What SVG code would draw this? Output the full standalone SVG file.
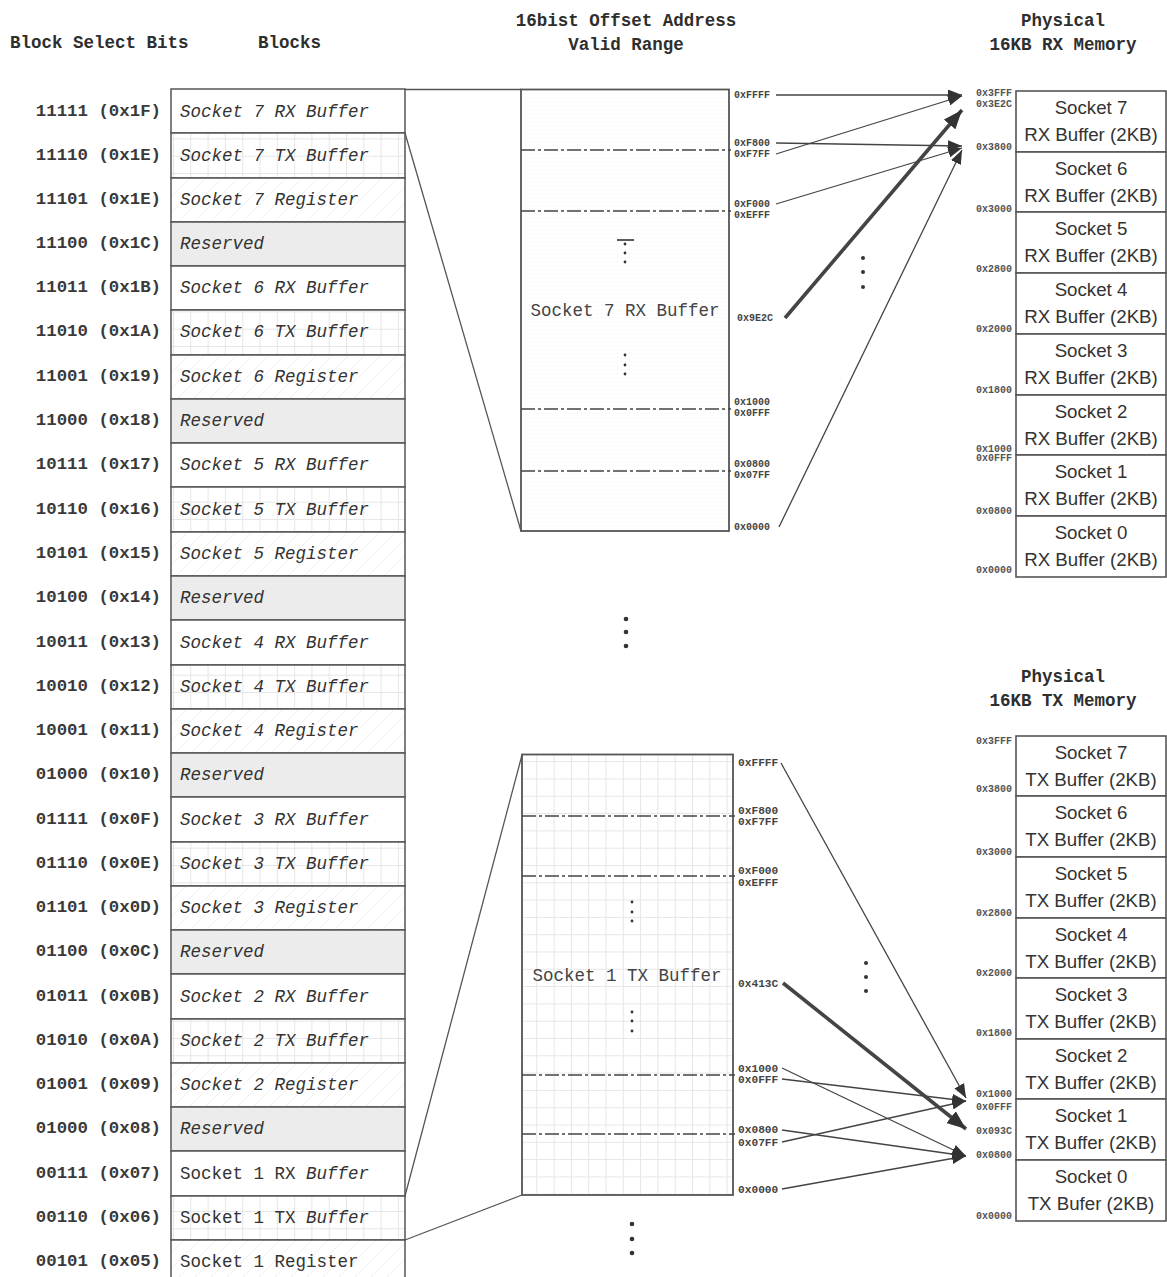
<svg xmlns="http://www.w3.org/2000/svg" width="1167" height="1277" viewBox="0 0 1167 1277">
  <style>
    .hdr { font-family: "Liberation Mono", "DejaVu Sans Mono", monospace; font-size: 17.5px; font-weight: bold; fill: #2e2e2e; }
    .sel { font-family: "Liberation Mono", "DejaVu Sans Mono", monospace; font-size: 17.4px; font-weight: bold; fill: #3a3a3a; text-anchor: end; }
    .blk { font-family: "Liberation Mono", "DejaVu Sans Mono", monospace; font-size: 17.5px; font-style: italic; fill: #333; }
    .up { font-style: normal; }
    .cell { stroke: #555; stroke-width: 1.5; }
    .plain { fill: #ffffff; }
    .resv { fill: #ececec; }
    .grid { fill: url(#gridPat); }
    .hatch { fill: url(#hatchPat); }
    .region { stroke: #555; stroke-width: 1.8; }
    .dashdot { stroke: #444; stroke-width: 1.4; stroke-dasharray: 14 3 3 3; fill: none; }
    .mid { font-family: "Liberation Mono", "DejaVu Sans Mono", monospace; font-size: 17.5px; fill: #444; text-anchor: middle; }
    .addr { font-family: "Liberation Mono", "DejaVu Sans Mono", monospace; font-size: 10px; font-weight: bold; fill: #444; }
    .addrTx { font-family: "Liberation Mono", "DejaVu Sans Mono", monospace; font-size: 11.2px; font-weight: bold; fill: #444; }
    .maddr { font-family: "Liberation Mono", "DejaVu Sans Mono", monospace; font-size: 10px; font-weight: bold; fill: #555; text-anchor: end; }
    .mem { fill: #ffffff; stroke: #555; stroke-width: 1.6; }
    .memt { font-family: "Liberation Sans", Arial, sans-serif; font-size: 18.7px; fill: #333; text-anchor: middle; }
    .link { stroke: #555; stroke-width: 1.3; fill: none; }
    .arrow { stroke: #444; stroke-width: 1.3; fill: none; marker-end: url(#head); }
    .thick { stroke: #444; stroke-width: 3.6; fill: none; marker-end: url(#headBig); }
    .dot { fill: #333; }
  </style>
  <defs>
    <pattern id="gridPat" width="17.3" height="17.3" patternUnits="userSpaceOnUse">
      <rect width="17.3" height="17.3" fill="#ffffff"/>
      <path d="M0,0.5 H17.3 M0.5,0 V17.3" stroke="#e6e6e6" stroke-width="1"/>
    </pattern>
    <pattern id="hatchPat" width="16" height="16" patternUnits="userSpaceOnUse">
      <rect width="16" height="16" fill="#ffffff"/>
      <path d="M0,16 L16,0" stroke="#f0f0f0" stroke-width="1"/>
    </pattern>
    <pattern id="stipple" width="4" height="4" patternUnits="userSpaceOnUse">
      <rect width="4" height="4" fill="#ffffff"/>
      <rect x="1" y="1" width="1" height="1" fill="#f1f1f1"/>
    </pattern>
    <marker id="head" markerUnits="userSpaceOnUse" markerWidth="15" markerHeight="11" refX="14" refY="5.5" orient="auto">
      <path d="M0,0 L14,5.5 L0,11 z" fill="#333"/>
    </marker>
    <marker id="headBig" markerUnits="userSpaceOnUse" markerWidth="20" markerHeight="15" refX="19" refY="7.5" orient="auto">
      <path d="M0,0 L19,7.5 L0,15 z" fill="#333"/>
    </marker>
  </defs>

  <rect width="1167" height="1277" fill="#ffffff"/>

  <!-- column headings -->
  <g id="headings">
    <text class="hdr" x="10" y="48">Block Select Bits</text>
    <text class="hdr" x="258" y="48">Blocks</text>
    <text class="hdr" x="626" y="26" text-anchor="middle">16bist Offset Address</text>
    <text class="hdr" x="626" y="50" text-anchor="middle">Valid Range</text>
    <text class="hdr" x="1063" y="26" text-anchor="middle">Physical</text>
    <text class="hdr" x="1063" y="50" text-anchor="middle">16KB RX Memory</text>
    <text class="hdr" x="1063" y="682" text-anchor="middle">Physical</text>
    <text class="hdr" x="1063" y="706" text-anchor="middle">16KB TX Memory</text>
  </g>

  <!-- block select table: one row per block -->
  <g id="row-1F"><rect class="cell plain" x="171" y="89" width="234" height="44"/><text class="sel" x="161" y="116">11111 (0x1F)</text><text class="blk" x="180" y="117">Socket 7 RX Buffer</text></g>
  <g id="row-1E"><rect class="cell grid" x="171" y="133" width="234" height="45"/><text class="sel" x="161" y="160">11110 (0x1E)</text><text class="blk" x="180" y="161">Socket 7 TX Buffer</text></g>
  <g id="row-1D"><rect class="cell hatch" x="171" y="178" width="234" height="44"/><text class="sel" x="161" y="204">11101 (0x1E)</text><text class="blk" x="180" y="205">Socket 7 Register</text></g>
  <g id="row-1C"><rect class="cell resv" x="171" y="222" width="234" height="44"/><text class="sel" x="161" y="248">11100 (0x1C)</text><text class="blk" x="180" y="249">Reserved</text></g>
  <g id="row-1B"><rect class="cell plain" x="171" y="266" width="234" height="44"/><text class="sel" x="161" y="292">11011 (0x1B)</text><text class="blk" x="180" y="293">Socket 6 RX Buffer</text></g>
  <g id="row-1A"><rect class="cell grid" x="171" y="310" width="234" height="45"/><text class="sel" x="161" y="336">11010 (0x1A)</text><text class="blk" x="180" y="337">Socket 6 TX Buffer</text></g>
  <g id="row-19"><rect class="cell hatch" x="171" y="355" width="234" height="44"/><text class="sel" x="161" y="381">11001 (0x19)</text><text class="blk" x="180" y="382">Socket 6 Register</text></g>
  <g id="row-18"><rect class="cell resv" x="171" y="399" width="234" height="44"/><text class="sel" x="161" y="425">11000 (0x18)</text><text class="blk" x="180" y="426">Reserved</text></g>
  <g id="row-17"><rect class="cell plain" x="171" y="443" width="234" height="44"/><text class="sel" x="161" y="469">10111 (0x17)</text><text class="blk" x="180" y="470">Socket 5 RX Buffer</text></g>
  <g id="row-16"><rect class="cell grid" x="171" y="487" width="234" height="45"/><text class="sel" x="161" y="514">10110 (0x16)</text><text class="blk" x="180" y="515">Socket 5 TX Buffer</text></g>
  <g id="row-15"><rect class="cell hatch" x="171" y="532" width="234" height="44"/><text class="sel" x="161" y="558">10101 (0x15)</text><text class="blk" x="180" y="559">Socket 5 Register</text></g>
  <g id="row-14"><rect class="cell resv" x="171" y="576" width="234" height="44"/><text class="sel" x="161" y="602">10100 (0x14)</text><text class="blk" x="180" y="603">Reserved</text></g>
  <g id="row-13"><rect class="cell plain" x="171" y="620" width="234" height="45"/><text class="sel" x="161" y="647">10011 (0x13)</text><text class="blk" x="180" y="648">Socket 4 RX Buffer</text></g>
  <g id="row-12"><rect class="cell grid" x="171" y="665" width="234" height="44"/><text class="sel" x="161" y="691">10010 (0x12)</text><text class="blk" x="180" y="692">Socket 4 TX Buffer</text></g>
  <g id="row-11"><rect class="cell hatch" x="171" y="709" width="234" height="44"/><text class="sel" x="161" y="735">10001 (0x11)</text><text class="blk" x="180" y="736">Socket 4 Register</text></g>
  <g id="row-10"><rect class="cell resv" x="171" y="753" width="234" height="44"/><text class="sel" x="161" y="779">01000 (0x10)</text><text class="blk" x="180" y="780">Reserved</text></g>
  <g id="row-0F"><rect class="cell plain" x="171" y="797" width="234" height="45"/><text class="sel" x="161" y="824">01111 (0x0F)</text><text class="blk" x="180" y="825">Socket 3 RX Buffer</text></g>
  <g id="row-0E"><rect class="cell grid" x="171" y="842" width="234" height="44"/><text class="sel" x="161" y="868">01110 (0x0E)</text><text class="blk" x="180" y="869">Socket 3 TX Buffer</text></g>
  <g id="row-0D"><rect class="cell hatch" x="171" y="886" width="234" height="44"/><text class="sel" x="161" y="912">01101 (0x0D)</text><text class="blk" x="180" y="913">Socket 3 Register</text></g>
  <g id="row-0C"><rect class="cell resv" x="171" y="930" width="234" height="44"/><text class="sel" x="161" y="956">01100 (0x0C)</text><text class="blk" x="180" y="957">Reserved</text></g>
  <g id="row-0B"><rect class="cell plain" x="171" y="974" width="234" height="45"/><text class="sel" x="161" y="1001">01011 (0x0B)</text><text class="blk" x="180" y="1002">Socket 2 RX Buffer</text></g>
  <g id="row-0A"><rect class="cell grid" x="171" y="1019" width="234" height="44"/><text class="sel" x="161" y="1045">01010 (0x0A)</text><text class="blk" x="180" y="1046">Socket 2 TX Buffer</text></g>
  <g id="row-09"><rect class="cell hatch" x="171" y="1063" width="234" height="44"/><text class="sel" x="161" y="1089">01001 (0x09)</text><text class="blk" x="180" y="1090">Socket 2 Register</text></g>
  <g id="row-08"><rect class="cell resv" x="171" y="1107" width="234" height="44"/><text class="sel" x="161" y="1133">01000 (0x08)</text><text class="blk" x="180" y="1134">Reserved</text></g>
  <g id="row-07"><rect class="cell plain" x="171" y="1151" width="234" height="45"/><text class="sel" x="161" y="1178">00111 (0x07)</text><text class="blk" x="180" y="1179"><tspan class="up">Socket 1 RX </tspan>Buffer</text></g>
  <g id="row-06"><rect class="cell grid" x="171" y="1196" width="234" height="44"/><text class="sel" x="161" y="1222">00110 (0x06)</text><text class="blk" x="180" y="1223"><tspan class="up">Socket 1 TX </tspan>Buffer</text></g>
  <g id="row-05"><rect class="cell hatch" x="171" y="1240" width="234" height="44"/><text class="sel" x="161" y="1266">00101 (0x05)</text><text class="blk up" x="180" y="1267">Socket 1 Register</text></g>

  <!-- socket 7 RX buffer offset range -->
  <g id="rx-range">
    <rect class="region" x="521" y="89.5" width="208" height="441.5" fill="url(#stipple)"/>
    <line class="dashdot" x1="521" y1="150" x2="731" y2="150"/>
    <line class="dashdot" x1="521" y1="211" x2="731" y2="211"/>
    <line class="dashdot" x1="521" y1="409" x2="731" y2="409"/>
    <line class="dashdot" x1="521" y1="471" x2="731" y2="471"/>
    <line x1="617" y1="240" x2="634" y2="240" stroke="#333" stroke-width="1.6"/>
    <circle class="dot" cx="625" cy="244" r="1.4"/>
    <circle class="dot" cx="625" cy="253" r="1.4"/>
    <circle class="dot" cx="625" cy="262" r="1.4"/>
    <text class="mid" x="625" y="316">Socket 7 RX Buffer</text>
    <circle class="dot" cx="625" cy="355" r="1.4"/>
    <circle class="dot" cx="625" cy="365" r="1.4"/>
    <circle class="dot" cx="625" cy="374" r="1.4"/>
    <text class="addr" x="734" y="98">0xFFFF</text>
    <text class="addr" x="734" y="146">0xF800</text>
    <text class="addr" x="734" y="157">0xF7FF</text>
    <text class="addr" x="734" y="207">0xF000</text>
    <text class="addr" x="734" y="218">0xEFFF</text>
    <text class="addr" x="737" y="321">0x9E2C</text>
    <text class="addr" x="734" y="405">0x1000</text>
    <text class="addr" x="734" y="416">0x0FFF</text>
    <text class="addr" x="734" y="467">0x0800</text>
    <text class="addr" x="734" y="478">0x07FF</text>
    <text class="addr" x="734" y="530">0x0000</text>
  </g>

  <!-- socket 1 TX buffer offset range -->
  <g id="tx-range">
    <rect class="region grid" x="522" y="754.5" width="211" height="440.5"/>
    <line class="dashdot" x1="522" y1="816" x2="735" y2="816"/>
    <line class="dashdot" x1="522" y1="876" x2="735" y2="876"/>
    <line class="dashdot" x1="522" y1="1075" x2="735" y2="1075"/>
    <line class="dashdot" x1="522" y1="1134" x2="735" y2="1134"/>
    <circle class="dot" cx="632" cy="902" r="1.4"/>
    <circle class="dot" cx="632" cy="912" r="1.4"/>
    <circle class="dot" cx="632" cy="921" r="1.4"/>
    <text class="mid" x="627" y="981">Socket 1 TX Buffer</text>
    <circle class="dot" cx="632" cy="1012" r="1.4"/>
    <circle class="dot" cx="632" cy="1021" r="1.4"/>
    <circle class="dot" cx="632" cy="1031" r="1.4"/>
    <text class="addrTx" x="738" y="766">0xFFFF</text>
    <text class="addrTx" x="738" y="814">0xF800</text>
    <text class="addrTx" x="738" y="825">0xF7FF</text>
    <text class="addrTx" x="738" y="874">0xF000</text>
    <text class="addrTx" x="738" y="886">0xEFFF</text>
    <text class="addrTx" x="738" y="987">0x413C</text>
    <text class="addrTx" x="738" y="1072">0x1000</text>
    <text class="addrTx" x="738" y="1083">0x0FFF</text>
    <text class="addrTx" x="738" y="1133">0x0800</text>
    <text class="addrTx" x="738" y="1146">0x07FF</text>
    <text class="addrTx" x="738" y="1193">0x0000</text>
  </g>

  <!-- physical 16KB RX memory -->
  <g id="rx-mem">
    <g id="rx-s7"><rect class="mem" x="1016" y="91" width="150" height="61"/><text class="memt" x="1091" y="113.5">Socket 7</text><text class="memt" x="1091" y="140.5">RX Buffer (2KB)</text></g>
    <g id="rx-s6"><rect class="mem" x="1016" y="152" width="150" height="60"/><text class="memt" x="1091" y="174.5">Socket 6</text><text class="memt" x="1091" y="201.5">RX Buffer (2KB)</text></g>
    <g id="rx-s5"><rect class="mem" x="1016" y="212" width="150" height="61"/><text class="memt" x="1091" y="234.5">Socket 5</text><text class="memt" x="1091" y="261.5">RX Buffer (2KB)</text></g>
    <g id="rx-s4"><rect class="mem" x="1016" y="273" width="150" height="61"/><text class="memt" x="1091" y="295.5">Socket 4</text><text class="memt" x="1091" y="322.5">RX Buffer (2KB)</text></g>
    <g id="rx-s3"><rect class="mem" x="1016" y="334" width="150" height="61"/><text class="memt" x="1091" y="356.5">Socket 3</text><text class="memt" x="1091" y="383.5">RX Buffer (2KB)</text></g>
    <g id="rx-s2"><rect class="mem" x="1016" y="395" width="150" height="60"/><text class="memt" x="1091" y="417.5">Socket 2</text><text class="memt" x="1091" y="444.5">RX Buffer (2KB)</text></g>
    <g id="rx-s1"><rect class="mem" x="1016" y="455" width="150" height="61"/><text class="memt" x="1091" y="477.5">Socket 1</text><text class="memt" x="1091" y="504.5">RX Buffer (2KB)</text></g>
    <g id="rx-s0"><rect class="mem" x="1016" y="516" width="150" height="61"/><text class="memt" x="1091" y="538.5">Socket 0</text><text class="memt" x="1091" y="565.5">RX Buffer (2KB)</text></g>
    <text class="maddr" x="1012" y="95.5">0x3FFF</text>
    <text class="maddr" x="1012" y="107">0x3E2C</text>
    <text class="maddr" x="1012" y="149.5">0x3800</text>
    <text class="maddr" x="1012" y="211.5">0x3000</text>
    <text class="maddr" x="1012" y="271.5">0x2800</text>
    <text class="maddr" x="1012" y="332">0x2000</text>
    <text class="maddr" x="1012" y="392.5">0x1800</text>
    <text class="maddr" x="1012" y="452">0x1000</text>
    <text class="maddr" x="1012" y="461">0x0FFF</text>
    <text class="maddr" x="1012" y="513.5">0x0800</text>
    <text class="maddr" x="1012" y="573">0x0000</text>
  </g>

  <!-- physical 16KB TX memory -->
  <g id="tx-mem">
    <g id="tx-s7"><rect class="mem" x="1016" y="736" width="150" height="60"/><text class="memt" x="1091" y="758.5">Socket 7</text><text class="memt" x="1091" y="785.5">TX Buffer (2KB)</text></g>
    <g id="tx-s6"><rect class="mem" x="1016" y="796" width="150" height="61"/><text class="memt" x="1091" y="818.5">Socket 6</text><text class="memt" x="1091" y="845.5">TX Buffer (2KB)</text></g>
    <g id="tx-s5"><rect class="mem" x="1016" y="857" width="150" height="61"/><text class="memt" x="1091" y="879.5">Socket 5</text><text class="memt" x="1091" y="906.5">TX Buffer (2KB)</text></g>
    <g id="tx-s4"><rect class="mem" x="1016" y="918" width="150" height="60"/><text class="memt" x="1091" y="940.5">Socket 4</text><text class="memt" x="1091" y="967.5">TX Buffer (2KB)</text></g>
    <g id="tx-s3"><rect class="mem" x="1016" y="978" width="150" height="61"/><text class="memt" x="1091" y="1000.5">Socket 3</text><text class="memt" x="1091" y="1027.5">TX Buffer (2KB)</text></g>
    <g id="tx-s2"><rect class="mem" x="1016" y="1039" width="150" height="60"/><text class="memt" x="1091" y="1061.5">Socket 2</text><text class="memt" x="1091" y="1088.5">TX Buffer (2KB)</text></g>
    <g id="tx-s1"><rect class="mem" x="1016" y="1099" width="150" height="61"/><text class="memt" x="1091" y="1121.5">Socket 1</text><text class="memt" x="1091" y="1148.5">TX Buffer (2KB)</text></g>
    <g id="tx-s0"><rect class="mem" x="1016" y="1160" width="150" height="61"/><text class="memt" x="1091" y="1182.5">Socket 0</text><text class="memt" x="1091" y="1209.5">TX Bufer (2KB)</text></g>
    <text class="maddr" x="1012" y="743.5">0x3FFF</text>
    <text class="maddr" x="1012" y="791.5">0x3800</text>
    <text class="maddr" x="1012" y="854.5">0x3000</text>
    <text class="maddr" x="1012" y="915.5">0x2800</text>
    <text class="maddr" x="1012" y="975.5">0x2000</text>
    <text class="maddr" x="1012" y="1035.5">0x1800</text>
    <text class="maddr" x="1012" y="1096.5">0x1000</text>
    <text class="maddr" x="1012" y="1109.5">0x0FFF</text>
    <text class="maddr" x="1012" y="1133.5">0x093C</text>
    <text class="maddr" x="1012" y="1157.5">0x0800</text>
    <text class="maddr" x="1012" y="1218.5">0x0000</text>
  </g>

  <!-- continuation marks -->
  <g id="ellipses">
    <circle class="dot" cx="863" cy="258" r="2"/>
    <circle class="dot" cx="863" cy="272" r="2"/>
    <circle class="dot" cx="863" cy="287" r="2"/>
    <circle class="dot" cx="626" cy="619" r="2.3"/>
    <circle class="dot" cx="626" cy="632" r="2.3"/>
    <circle class="dot" cx="626" cy="646" r="2.3"/>
    <circle class="dot" cx="866" cy="963" r="2"/>
    <circle class="dot" cx="866" cy="977" r="2"/>
    <circle class="dot" cx="866" cy="991" r="2"/>
    <circle class="dot" cx="632" cy="1224" r="2.3"/>
    <circle class="dot" cx="632" cy="1239" r="2.3"/>
    <circle class="dot" cx="632" cy="1253" r="2.3"/>
  </g>

  <!-- connectors -->
  <g id="connectors">
    <!-- block row to offset range -->
    <line class="link" x1="405" y1="89.5" x2="521" y2="89.5"/>
    <line class="link" x1="405" y1="133" x2="521" y2="531"/>
    <line class="link" x1="405" y1="1196" x2="522" y2="755"/>
    <line class="link" x1="405" y1="1240" x2="522" y2="1195"/>
    <!-- RX offsets to physical RX memory -->
    <line class="arrow" x1="776" y1="95" x2="962" y2="95"/>
    <line class="arrow" x1="776" y1="143" x2="962" y2="146"/>
    <line class="arrow" x1="776" y1="154" x2="962" y2="96"/>
    <line class="arrow" x1="776" y1="204" x2="962" y2="148"/>
    <line class="thick" x1="785" y1="318" x2="962" y2="110"/>
    <line class="arrow" x1="779" y1="527" x2="962" y2="150"/>
    <!-- TX offsets to physical TX memory -->
    <line class="arrow" x1="781" y1="763" x2="966" y2="1098"/>
    <line class="thick" x1="783" y1="983" x2="966" y2="1129"/>
    <line class="arrow" x1="782" y1="1068" x2="966" y2="1156"/>
    <line class="arrow" x1="782" y1="1079" x2="966" y2="1101"/>
    <line class="arrow" x1="782" y1="1130" x2="966" y2="1156"/>
    <line class="arrow" x1="782" y1="1142" x2="966" y2="1101"/>
    <line class="arrow" x1="782" y1="1189" x2="966" y2="1156"/>
  </g>
</svg>
